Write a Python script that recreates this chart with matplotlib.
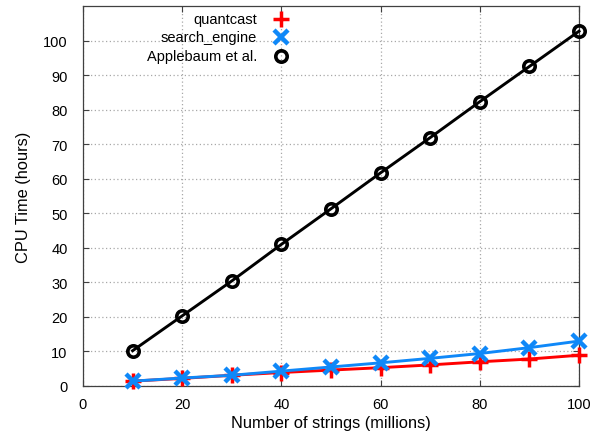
import matplotlib
matplotlib.use('Agg')
import matplotlib.pyplot as plt

plt.rcParams['font.family'] = ['Liberation Sans', 'DejaVu Sans']

strings = [10, 20, 30, 40, 50, 60, 70, 80, 90, 100]
quantcast = [1.4, 2.2, 3.1, 3.9, 4.6, 5.3, 6.1, 7.0, 7.8, 8.9]
search_engine = [1.4, 2.3, 3.1, 4.3, 5.5, 6.7, 8.0, 9.4, 11.1, 13.0]
applebaum = [10.2, 20.3, 30.4, 41.0, 51.3, 61.7, 71.9, 82.3, 92.5, 102.7]

series = [
    ('quantcast', quantcast, '#ff0000', '+', 12, 2.5, 'none'),
    ('search_engine', search_engine, '#0f88f8', 'x', 10, 3.2, 'none'),
    ('Applebaum et al.', applebaum, '#000000', 'o', 8.2, 2.6, 'none'),
]

fig = plt.figure(figsize=(5.91, 4.39), dpi=100)
ax = fig.add_axes([0.1404, 0.1185, 0.8393, 0.8656])

for label, vals, col, mk, ms, mew, mfc in series:
    ax.plot(strings, vals, color=col, lw=2.1, marker=mk, ms=ms, mew=mew,
            mfc=mfc, mec=col, clip_on=False, zorder=3)

ax.set_xlim(0, 100)
ax.set_ylim(0, 110)
ax.set_xticks(range(0, 101, 20))
ax.set_yticks(range(0, 101, 10))
ax.grid(True, color='#a8a8a8', linestyle=(0, (1, 2)), lw=0.9)
ax.tick_params(direction='in', length=4, width=0.8, top=True, right=True,
               labelsize=10.5, color='#404040')
ax.tick_params(axis='y', pad=11)
ax.tick_params(axis='x', pad=8)
for s in ax.spines.values():
    s.set_color('#404040')
    s.set_linewidth(0.9)

ax.set_xlabel('Number of strings (millions)', fontsize=11.8, labelpad=3)
ax.set_ylabel('CPU Time (hours)', fontsize=11.8, labelpad=9)

# legend, gnuplot style: right-aligned text, point to its right
rows = [0.966, 0.918, 0.868]
for (label, vals, col, mk, ms, mew, mfc), yy in zip(series, rows):
    ax.text(0.351, yy, label, transform=ax.transAxes, ha='right', va='center',
            fontsize=10.5)
    ax.plot([0.399], [yy], transform=ax.transAxes, color=col, marker=mk,
            ms=ms, mew=mew, mfc=mfc, mec=col, ls='none', clip_on=False)

fig.savefig('out.png', dpi=100)
